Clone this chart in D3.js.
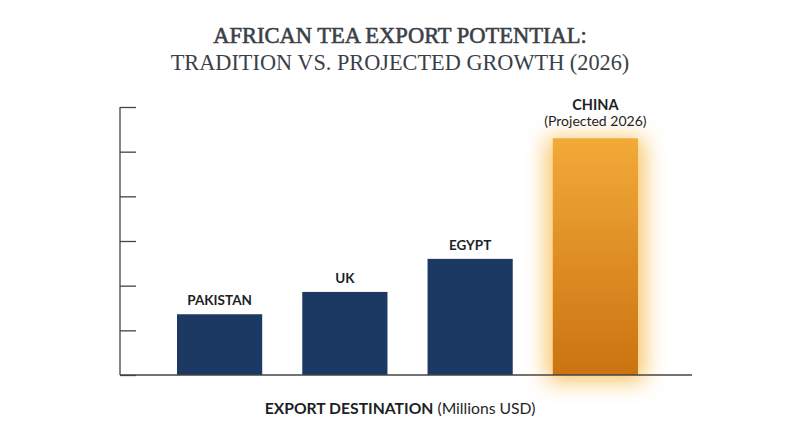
<!DOCTYPE html>
<html>
<head>
<meta charset="utf-8">
<script src="https://d3js.org/d3.v7.min.js"></script>
<style>
    body { margin: 0; background: #fff; }
    svg { display: block; }
    .title { font-family: "Liberation Serif", "DejaVu Serif", serif; fill: #3b3f48; text-anchor: middle; }
    .bar-label { font-family: Lato, "Open Sans", sans-serif; font-weight: 700; font-size: 13.5px; fill: #1c1f26; text-anchor: middle; }
    .sub-label { font-family: Lato, "Open Sans", sans-serif; font-size: 14px; fill: #1c1f26; text-anchor: middle; }
    .axis-title { font-family: Lato, "Open Sans", sans-serif; font-size: 15.7px; fill: #1c1f26; text-anchor: middle; }
</style>
</head>
<body>
<script>
// data (Millions USD)
var countries = ["PAKISTAN", "UK", "EGYPT", "CHINA"];
var values = [136, 186, 260, 530];
var projected = [false, false, false, true];
var yTicks = [0, 100, 200, 300, 400, 500, 600];

var width = 800, height = 447;
var margin = { left: 120, right: 105, top: 107, bottom: 72 };

var svg = d3.select("body").append("svg")
    .attr("width", width)
    .attr("height", height);

var defs = svg.append("defs");
var grad = defs.append("linearGradient")
    .attr("id", "gold").attr("x1", 0).attr("y1", 0).attr("x2", 0).attr("y2", 1);
grad.append("stop").attr("offset", "0%").attr("stop-color", "#f2aa38");
grad.append("stop").attr("offset", "100%").attr("stop-color", "#cb7312");
var glow = defs.append("filter").attr("id", "glow")
    .attr("x", "-60%").attr("y", "-25%").attr("width", "220%").attr("height", "150%");
glow.append("feGaussianBlur").attr("stdDeviation", 11);

var x = d3.scaleBand()
    .domain(countries)
    .range([margin.left, width - margin.right])
    .paddingInner(0.32)
    .paddingOuter(0.455);

var y = d3.scaleLinear()
    .domain([0, 600])
    .range([height - margin.bottom, margin.top]);

// title
svg.append("text").attr("class", "title")
    .attr("x", 400).attr("y", 43)
    .style("font-size", "22.5px")
    .style("stroke", "#3b3f48").style("stroke-width", 0.6)
    .text("AFRICAN TEA EXPORT POTENTIAL:");
svg.append("text").attr("class", "title")
    .attr("x", 400).attr("y", 70)
    .style("font-size", "22.3px")
    .text("TRADITION VS. PROJECTED GROWTH (2026)");

var data = countries.map(function (c, i) {
    return { name: c, value: values[i], projected: projected[i] };
});

// glow behind projected bar
svg.selectAll(".glow")
    .data(data.filter(function (d) { return d.projected; }))
    .enter().append("rect")
    .attr("x", function (d) { return x(d.name) - 6; })
    .attr("y", function (d) { return y(d.value); })
    .attr("width", x.bandwidth() + 12)
    .attr("height", function (d) { return y(0) - y(d.value) + 6; })
    .attr("fill", "#f7b945")
    .attr("opacity", 0.85)
    .attr("filter", "url(#glow)");

svg.selectAll(".bar")
    .data(data)
    .enter().append("rect")
    .attr("class", "bar")
    .attr("x", function (d) { return x(d.name); })
    .attr("y", function (d) { return y(d.value); })
    .attr("width", x.bandwidth())
    .attr("height", function (d) { return y(0) - y(d.value); })
    .attr("fill", function (d) { return d.projected ? "url(#gold)" : "#1b3963"; });

// labels
svg.selectAll(".bar-label")
    .data(data)
    .enter().append("text")
    .attr("class", "bar-label")
    .attr("x", function (d) { return x(d.name) + x.bandwidth() / 2; })
    .attr("y", function (d) { return y(d.value) - (d.projected ? 28 : 9); })
    .style("font-size", function (d) { return d.projected ? "14.5px" : null; })
    .text(function (d) { return d.name; });

svg.selectAll(".sub-label")
    .data(data.filter(function (d) { return d.projected; }))
    .enter().append("text")
    .attr("class", "sub-label")
    .attr("x", function (d) { return x(d.name) + x.bandwidth() / 2; })
    .attr("y", function (d) { return y(d.value) - 12; })
    .text("(Projected 2026)");

// y axis: ticks pointing inward, no labels
var yAxis = d3.axisRight(y).tickValues(yTicks).tickSize(16).tickFormat("");
var gy = svg.append("g")
    .attr("transform", "translate(" + margin.left + ",0)")
    .call(yAxis);
gy.select(".domain").remove();
gy.selectAll(".tick line").attr("stroke", "#444").attr("stroke-width", 1.3);
svg.append("line")
    .attr("x1", margin.left).attr("x2", margin.left)
    .attr("y1", y(600)).attr("y2", y(0))
    .attr("stroke", "#444").attr("stroke-width", 1.3);

// baseline
svg.append("line")
    .attr("x1", margin.left).attr("x2", 692)
    .attr("y1", y(0)).attr("y2", y(0))
    .attr("stroke", "#444").attr("stroke-width", 1.5);

// axis title
var at = svg.append("text").attr("class", "axis-title")
    .attr("x", 400).attr("y", 414);
at.append("tspan").style("font-weight", 700).text("EXPORT DESTINATION");
at.append("tspan").text(" (Millions USD)");
</script>
</body>
</html>
